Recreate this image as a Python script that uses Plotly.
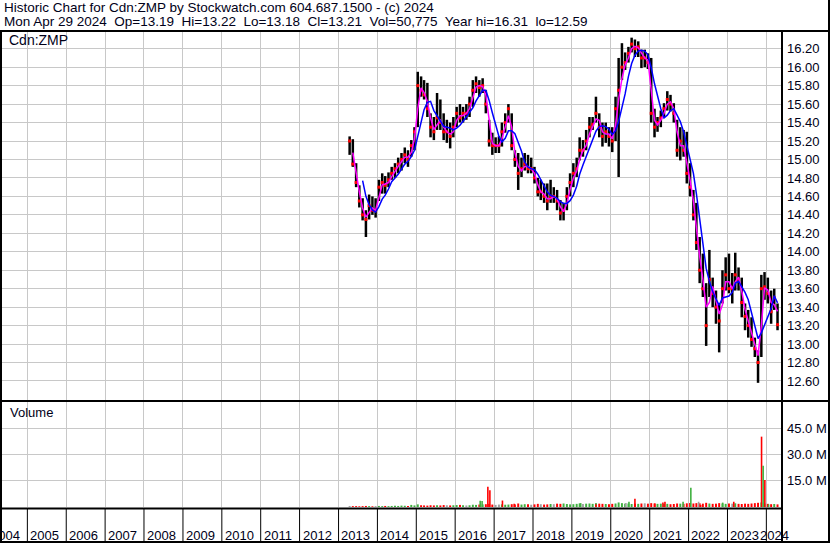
import plotly.graph_objects as go
import pandas as pd

W, H = 830, 543


def px(x):
    return x / W


def py(y):
    return 1 - y / H


# ---------------- data (monthly, Apr 2013 .. Apr 2024) ----------------
first_month = "2013-04-01"
highs = [
    15.25, 15.22, 14.96, 14.72, 14.58, 14.45, 14.62, 14.60, 14.58,
    14.78, 14.85, 14.82, 14.86, 14.92, 14.96, 15.02, 15.07, 15.13, 15.10, 15.21, 15.35,
    15.95, 15.90, 15.86, 15.83, 15.50, 15.46, 15.72, 15.65, 15.50, 15.43, 15.40, 15.46,
    15.57, 15.60, 15.57, 15.60, 15.68, 15.86, 15.90, 15.86, 15.88, 15.75, 15.43, 15.29,
    15.24, 15.25, 15.40, 15.50, 15.60, 15.50, 15.10, 15.07, 15.02, 15.07, 15.05, 15.02,
    14.92, 14.80, 14.78, 14.74, 14.74, 14.78, 14.70, 14.67, 14.56, 14.53, 14.70, 14.85,
    14.96, 15.02, 15.24, 15.21, 15.32, 15.46, 15.46, 15.68, 15.50, 15.40, 15.40, 15.35,
    15.35, 15.68, 16.10, 16.26, 16.16, 16.22, 16.32, 16.30, 16.28, 16.19, 16.19, 16.15,
    16.10, 15.55, 15.46, 15.53, 15.61, 15.74, 15.70, 15.61, 15.43, 15.35, 15.32, 15.30,
    14.96, 14.67, 14.53, 14.16, 13.98, 13.66, 14.02, 13.72, 13.58, 13.44, 13.80, 13.94,
    13.98, 13.77, 13.99, 13.83, 13.72, 13.44, 13.37, 13.29, 13.07, 12.93, 13.75, 13.78,
    13.72, 13.58, 13.60, 13.44,
]
lows = [
    15.05, 14.92, 14.70, 14.48, 14.34, 14.16, 14.35, 14.40, 14.37,
    14.55, 14.63, 14.63, 14.70, 14.78, 14.80, 14.85, 14.88, 14.96, 14.92, 15.03, 15.10,
    15.35, 15.68, 15.65, 15.46, 15.24, 15.21, 15.32, 15.32, 15.21, 15.18, 15.12, 15.24,
    15.35, 15.40, 15.40, 15.43, 15.46, 15.57, 15.72, 15.68, 15.72, 15.50, 15.14, 15.05,
    15.07, 15.07, 15.14, 15.29, 15.40, 15.10, 14.92, 14.67, 14.81, 14.88, 14.85, 14.85,
    14.74, 14.60, 14.56, 14.53, 14.45, 14.53, 14.53, 14.45, 14.34, 14.34, 14.45, 14.60,
    14.70, 14.81, 14.99, 15.03, 15.10, 15.24, 15.32, 15.40, 15.24, 15.14, 15.18, 15.14,
    15.08, 15.20, 14.81, 15.86, 15.97, 16.05, 16.16, 16.11, 16.11, 15.99, 16.00, 15.98,
    15.40, 15.24, 15.30, 15.35, 15.46, 15.53, 15.52, 15.40, 15.03, 14.99, 15.03, 14.74,
    14.60, 14.34, 14.02, 13.66, 13.51, 12.98, 13.51, 13.40, 13.22, 12.91, 13.44, 13.58,
    13.55, 13.44, 13.58, 13.58, 13.29, 13.15, 13.07, 12.97, 12.86, 12.58, 12.86, 13.48,
    13.44, 13.22, 13.37, 13.15,
]
closes = [
    15.20, 14.95, 14.75, 14.55, 14.40, 14.35, 14.50, 14.45, 14.45,
    14.70, 14.75, 14.72, 14.78, 14.85, 14.90, 14.95, 15.00, 15.05, 15.00, 15.15, 15.30,
    15.80, 15.75, 15.70, 15.55, 15.35, 15.30, 15.45, 15.40, 15.30, 15.30, 15.25, 15.35,
    15.50, 15.45, 15.50, 15.50, 15.60, 15.75, 15.82, 15.78, 15.80, 15.60, 15.20, 15.15,
    15.15, 15.15, 15.30, 15.40, 15.55, 15.15, 15.00, 14.85, 14.90, 14.95, 14.90, 14.90,
    14.80, 14.65, 14.65, 14.60, 14.55, 14.60, 14.60, 14.55, 14.42, 14.45, 14.60, 14.75,
    14.85, 14.90, 15.10, 15.10, 15.20, 15.35, 15.38, 15.50, 15.35, 15.25, 15.30, 15.25,
    15.20, 15.55, 15.75, 16.00, 16.05, 16.15, 16.25, 16.20, 16.22, 16.10, 16.10, 16.05,
    15.50, 15.35, 15.40, 15.45, 15.55, 15.65, 15.60, 15.50, 15.10, 15.20, 15.10, 14.85,
    14.70, 14.40, 14.10, 13.80, 13.60, 13.20, 13.70, 13.55, 13.40, 13.25, 13.60, 13.75,
    13.60, 13.60, 13.75, 13.70, 13.45, 13.30, 13.20, 13.05, 12.95, 12.80, 13.60, 13.62,
    13.55, 13.35, 13.50, 13.21,
]
# monthly baseline volume, millions of shares
vol_month = [
    0.6, 0.5, 0.5, 0.4, 0.5, 0.6, 0.5, 0.4, 0.5,
    0.6, 0.5, 0.6, 0.5, 0.6, 0.7, 0.6, 0.8, 0.7, 0.6, 1.2, 0.9,
    1.5, 1.0, 0.9, 0.8, 1.0, 0.9, 1.0, 0.9, 1.1, 1.0, 0.9, 1.0,
    1.1, 1.2, 1.0, 0.9, 1.0, 1.3, 1.2, 1.4, 1.5, 1.6, 1.8, 1.4,
    1.2, 1.4, 1.5, 1.3, 1.4, 1.6, 1.5, 2.0, 1.4, 1.6, 1.5, 1.3,
    1.5, 1.8, 1.6, 1.4, 1.5, 1.7, 1.6, 1.9, 1.8, 2.0, 1.7, 1.5,
    1.6, 1.8, 2.1, 1.7, 1.9, 2.0, 1.8, 2.2, 1.9, 1.8, 1.7, 1.6,
    1.8, 2.0, 2.6, 2.2, 1.9, 2.0, 1.7, 1.9, 1.8, 2.0, 2.1, 1.9,
    2.2, 2.0, 1.8, 1.9, 1.7, 1.8, 1.6, 1.7, 2.0, 1.9, 1.8, 2.1,
    2.3, 2.0, 2.2, 2.1, 1.9, 2.4, 2.0, 1.8, 1.9, 2.2, 2.0, 1.8,
    2.0, 1.9, 2.1, 1.8, 1.7, 1.9, 1.8, 2.0, 2.2, 2.4, 2.6, 2.0,
    1.8, 1.6, 1.7, 1.5,
]
# individual high-volume days (millions)
spike_dates = ["2016-08-23", "2016-09-10", "2016-11-03", "2016-11-22", "2017-03-20",
               "2017-07-08", "2019-03-25", "2019-08-15", "2020-05-22", "2020-06-20",
               "2020-08-15", "2021-02-18", "2021-05-05", "2021-05-24", "2021-11-10",
               "2022-01-22", "2022-04-05", "2022-04-24", "2022-11-17", "2023-03-01",
               "2023-11-17", "2023-12-02", "2023-12-18", "2024-01-22"]
spike_vals = [3.5, 3.4, 11.5, 9.5, 3.7, 1.8, 2.2, 1.6, 2.3, 3.0, 4.7, 2.0, 2.6, 3.0,
              3.0, 11.0, 3.0, 1.2, 2.5, 3.0, 40.2, 23.6, 15.4, 1.5]
spike_dir = ["up", "up", "down", "down", "down", "down", "up", "down", "flat", "up",
             "down", "down", "down", "down", "up", "up", "flat", "down", "up", "down",
             "down", "up", "down", "up"]

years = list(range(2004, 2025))
price_ticks = [12.60, 12.80, 13.00, 13.20, 13.40, 13.60, 13.80, 14.00, 14.20, 14.40,
               14.60, 14.80, 15.00, 15.20, 15.40, 15.60, 15.80, 16.00, 16.20]
vol_ticks = [15, 30, 45]

header1 = "Historic Chart for Cdn:ZMP by Stockwatch.com 604.687.1500 - (c) 2024"
header2 = ("Mon Apr 29 2024\u00a0 Op=13.19\u00a0 Hi=13.22\u00a0 Lo=13.18\u00a0 Cl=13.21"
           "\u00a0 Vol=50,775\u00a0 Year hi=16.31\u00a0 lo=12.59")

# ---------------- derived ----------------
n = len(closes)
dates = pd.date_range(first_month, periods=n, freq="MS") + pd.Timedelta(days=14)
cl = pd.Series(closes)
opens = [closes[0]] + closes[:-1]
ma_short = cl.rolling(2).mean()
ma_long = cl.rolling(5).mean()

COL = {"up": "#3fb03f", "down": "#ff0000", "flat": "#a0a0a0"}
month_dir = ["flat"] + ["up" if closes[i] > closes[i - 1] else ("down" if closes[i] < closes[i - 1] else "flat")
                        for i in range(1, n)]

FONT = "Liberation Sans, Arial, sans-serif"
TXT = "#000018"
GRID = "#c8c8c8"

fig = go.Figure()

fig.add_trace(go.Ohlc(
    x=dates, open=opens, high=highs, low=lows, close=closes,
    increasing=dict(line=dict(color="black", width=2.5)),
    decreasing=dict(line=dict(color="black", width=2.5)),
    tickwidth=0, xaxis="x", yaxis="y", hoverinfo="skip", showlegend=False))
fig.add_trace(go.Scatter(
    x=dates, y=closes, mode="markers", xaxis="x", yaxis="y",
    marker=dict(symbol="square", size=3, color="#ff0000", line=dict(width=0)),
    hoverinfo="skip", showlegend=False))
fig.add_trace(go.Scatter(
    x=dates, y=ma_short, mode="lines", xaxis="x", yaxis="y",
    line=dict(color="#ff00ff", width=1.5), hoverinfo="skip", showlegend=False))
fig.add_trace(go.Scatter(
    x=dates, y=ma_long, mode="lines", xaxis="x", yaxis="y",
    line=dict(color="#0000ff", width=1.5), hoverinfo="skip", showlegend=False))

# volume
fig.add_trace(go.Bar(
    x=dates, y=vol_month, xaxis="x2", yaxis="y2",
    marker=dict(color=[COL[d] for d in month_dir], line=dict(width=0)),
    width=1.6e9, hoverinfo="skip", showlegend=False))
fig.add_trace(go.Bar(
    x=pd.to_datetime(spike_dates), y=spike_vals, xaxis="x2", yaxis="y2",
    marker=dict(color=[COL[d] for d in spike_dir], line=dict(width=0)),
    width=1.3e9, hoverinfo="skip", showlegend=False))

x_range = ["2004-04-19", "2024-05-27"]
year_starts = [f"{y}-01-01" for y in years[1:]]

common_x = dict(range=x_range, type="date", tickmode="array", tickvals=year_starts,
                showticklabels=False, showgrid=True, gridcolor=GRID, gridwidth=1,
                zeroline=False, showline=False, ticks="", fixedrange=True,
                rangeslider=dict(visible=False))

fig.update_layout(
    width=W, height=H, margin=dict(l=0, r=0, t=0, b=0),
    paper_bgcolor="white", plot_bgcolor="white", barmode="overlay",
    font=dict(family=FONT, size=13, color=TXT),
    xaxis=dict(domain=[0, px(782)], anchor="y", **common_x),
    xaxis2=dict(domain=[0, px(782)], anchor="y2", matches="x", **common_x),
    yaxis=dict(domain=[py(400), py(31)], range=[12.394, 16.392], side="right",
               tickmode="array", tickvals=price_ticks,
               ticktext=[f"{v:.2f}" for v in price_ticks],
               tickfont=dict(size=13, color=TXT), showgrid=True, gridcolor=GRID,
               zeroline=False, ticks="", ticklabelstandoff=4, anchor="x", fixedrange=True),
    yaxis2=dict(domain=[py(507), py(402)], range=[0, 60], side="right",
                tickmode="array", tickvals=vol_ticks,
                ticktext=[f"{v:.1f} M" for v in vol_ticks],
                tickfont=dict(size=13, color=TXT), showgrid=True, gridcolor=GRID,
                zeroline=False, ticks="", ticklabelstandoff=4, anchor="x2", fixedrange=True),
)

shapes = []
blk = dict(color="black", width=2)
# outer frame and panel separators
shapes.append(dict(type="line", xref="paper", yref="paper", x0=px(1), x1=px(1), y0=py(31), y1=py(542), line=blk))
shapes.append(dict(type="line", xref="paper", yref="paper", x0=px(829), x1=px(829), y0=py(0), y1=py(542), line=blk))
shapes.append(dict(type="line", xref="paper", yref="paper", x0=0, x1=1, y0=py(31), y1=py(31), line=blk))
shapes.append(dict(type="line", xref="paper", yref="paper", x0=0, x1=1, y0=py(401), y1=py(401), line=blk))
shapes.append(dict(type="line", xref="paper", yref="paper", x0=0, x1=px(782), y0=py(508.5), y1=py(508.5), line=blk))
shapes.append(dict(type="line", xref="paper", yref="paper", x0=0, x1=1, y0=py(542), y1=py(542), line=blk))
shapes.append(dict(type="line", xref="paper", yref="paper", x0=px(782), x1=px(782), y0=py(31), y1=py(542), line=blk))
# year separators in the label row
for ys in year_starts:
    shapes.append(dict(type="line", xref="x2", yref="paper", x0=ys, x1=ys,
                       y0=py(509), y1=py(541), line=dict(color="black", width=1)))
fig.update_layout(shapes=shapes)

ann = []
ann.append(dict(text=header1, xref="paper", yref="paper", x=px(2), y=py(7.5),
                xanchor="left", yanchor="middle", showarrow=False, font=dict(size=13.5, color=TXT)))
ann.append(dict(text=header2, xref="paper", yref="paper", x=px(2), y=py(21.5),
                xanchor="left", yanchor="middle", showarrow=False, font=dict(size=13.5, color=TXT)))
ann.append(dict(text="Cdn:ZMP", xref="paper", yref="paper", x=px(7), y=py(40),
                xanchor="left", yanchor="middle", showarrow=False, font=dict(size=14, color=TXT)))
ann.append(dict(text="Volume", xref="paper", yref="paper", x=px(8), y=py(413),
                xanchor="left", yanchor="middle", showarrow=False, font=dict(size=13, color=TXT)))
for y in years[:-1]:
    ann.append(dict(text=str(y), xref="x2", yref="paper", x=f"{y}-07-02", y=py(535),
                    xanchor="center", yanchor="middle", xshift=-2, showarrow=False,
                    font=dict(size=13, color=TXT)))
ann.append(dict(text=str(years[-1]), xref="x2", yref="paper", x=f"{years[-1]}-01-01", y=py(535),
                xanchor="left", yanchor="middle", xshift=-8, showarrow=False,
                font=dict(size=13, color=TXT)))
fig.update_layout(annotations=ann)

fig.write_html("out.html", config={"displayModeBar": False, "staticPlot": True},
               post_script="document.body.style.margin='0';document.body.style.overflow='hidden';")
